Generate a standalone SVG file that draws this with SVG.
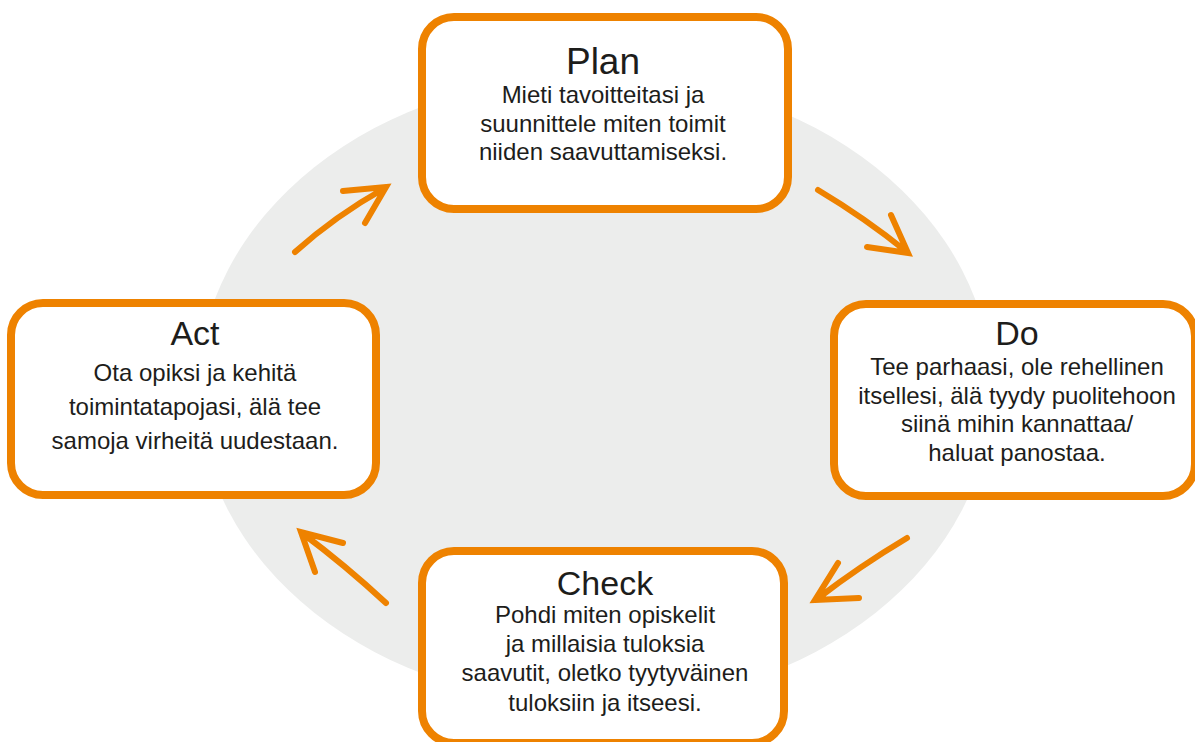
<svg xmlns="http://www.w3.org/2000/svg" width="1195" height="742" viewBox="0 0 1195 742">
  <style>
    .box { fill: #ffffff; stroke: #ee8200; stroke-width: 8; }
    .arrow { fill: none; stroke: #ee8200; stroke-width: 6; stroke-linecap: round; stroke-linejoin: miter; }
    .title { font-family: "Liberation Sans", Arial, sans-serif; font-size: 34px; fill: #1d1d1b; text-anchor: middle; }
    .body { font-family: "Liberation Sans", Arial, sans-serif; font-size: 24px; fill: #1d1d1b; text-anchor: middle; }
  </style>
  <rect width="1195" height="742" fill="#ffffff"/>
  <ellipse id="background" cx="595" cy="390" rx="397" ry="315" fill="#ecedec"/>

  <g id="connectors">
    <path class="arrow" d="M295,252 Q335,216 385,188 M343,191 L386,187 L365,223"/>
    <path class="arrow" d="M818,190 Q865,218 907,252 M867,247 L908,253 L891,215"/>
    <path class="arrow" d="M907,538 Q860,566 817,599 M859,598 L815,600 L838,563"/>
    <path class="arrow" d="M386,603 Q345,565 302,533 M343,543 L301,532 L315,572"/>
  </g>

  <g id="plan">
    <rect class="box" x="422" y="17" width="366" height="192" rx="32"/>
    <text class="title" x="603" y="74" style="font-size:37px">Plan</text>
    <text class="body" x="603" y="103">Mieti tavoitteitasi ja</text>
    <text class="body" x="603" y="132">suunnittele miten toimit</text>
    <text class="body" x="603" y="160">niiden saavuttamiseksi.</text>
  </g>

  <g id="do">
    <rect class="box" x="834" y="304" width="361" height="192" rx="32"/>
    <text class="title" x="1017" y="345">Do</text>
    <text class="body" x="1017" y="375">Tee parhaasi, ole rehellinen</text>
    <text class="body" x="1017" y="404">itsellesi, älä tyydy puolitehoon</text>
    <text class="body" x="1017" y="432">siinä mihin kannattaa/</text>
    <text class="body" x="1017" y="461">haluat panostaa.</text>
  </g>

  <g id="act">
    <rect class="box" x="11" y="303" width="365" height="192" rx="32"/>
    <text class="title" x="195" y="345">Act</text>
    <text class="body" x="195" y="381">Ota opiksi ja kehitä</text>
    <text class="body" x="195" y="415">toimintatapojasi, älä tee</text>
    <text class="body" x="195" y="449">samoja virheitä uudestaan.</text>
  </g>

  <g id="check">
    <rect class="box" x="422" y="551" width="362" height="192" rx="32"/>
    <text class="title" x="605" y="595">Check</text>
    <text class="body" x="605" y="623">Pohdi miten opiskelit</text>
    <text class="body" x="605" y="652">ja millaisia tuloksia</text>
    <text class="body" x="605" y="681">saavutit, oletko tyytyväinen</text>
    <text class="body" x="605" y="711">tuloksiin ja itseesi.</text>
  </g>
</svg>
